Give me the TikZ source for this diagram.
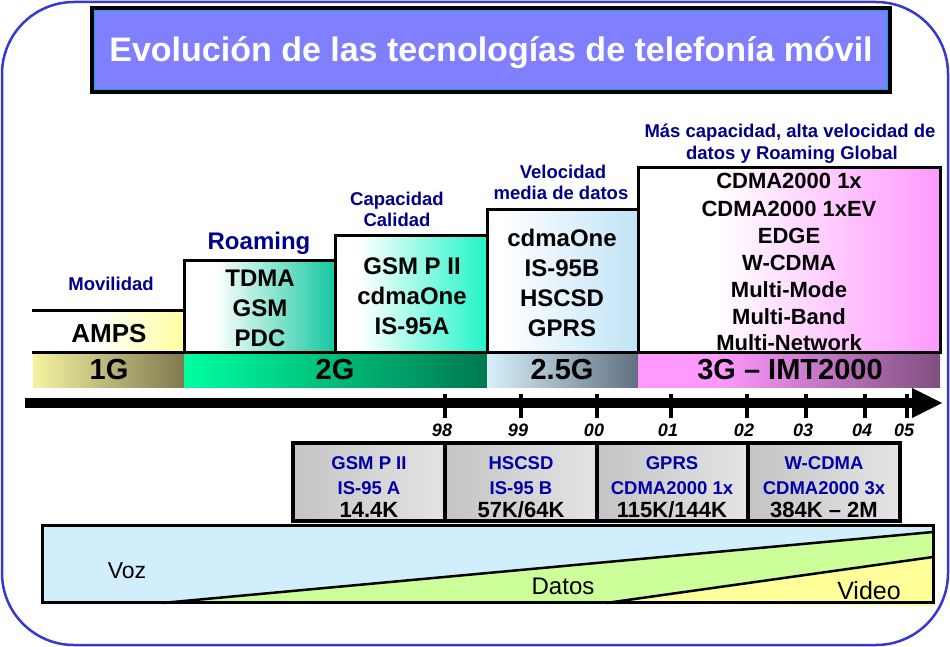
\documentclass[tikz,border=0pt]{standalone}
\usepackage{fontspec}
\setmainfont{Liberation Sans}
\usetikzlibrary{arrows.meta}
\newcommand\fs[1]{\fontsize{#1}{#1}\selectfont}
\definecolor{frameblue}{HTML}{3838D0}
\definecolor{titlefill}{HTML}{8080FF}
\definecolor{navy}{HTML}{00008B}
\definecolor{tblblue}{HTML}{0000AA}
\definecolor{cAmps}{HTML}{FFFFA0}
\definecolor{cTdma}{HTML}{14C8A0}
\definecolor{cGsm}{HTML}{20F5C8}
\definecolor{cCdma}{HTML}{C0E4F8}
\definecolor{cThree}{HTML}{FF99FF}
\definecolor{bOneL}{HTML}{F4F4A0}
\definecolor{bOneR}{HTML}{807850}
\definecolor{bTwoL}{HTML}{00FFA0}
\definecolor{bTwoR}{HTML}{007850}
\definecolor{bHalfL}{HTML}{D8F0FC}
\definecolor{bHalfR}{HTML}{607080}
\definecolor{bThreeL}{HTML}{FF99FF}
\definecolor{bThreeR}{HTML}{805080}
\definecolor{cellL}{HTML}{C4C4C4}
\definecolor{cellR}{HTML}{E4E4E4}
\definecolor{vozfill}{HTML}{D0EEFC}
\definecolor{datfill}{HTML}{CCFF99}
\definecolor{vidfill}{HTML}{FFFF99}
\pgfdeclarehorizontalshading{shAmps}{100bp}{color(0bp)=(white); color(25bp)=(white); color(45bp)=(white); color(75bp)=(cAmps); color(100bp)=(cAmps)}
\pgfdeclarehorizontalshading{shTdma}{100bp}{color(0bp)=(white); color(25bp)=(white); color(35bp)=(white); color(75bp)=(cTdma); color(100bp)=(cTdma)}
\pgfdeclarehorizontalshading{shGsm}{100bp}{color(0bp)=(white); color(25bp)=(white); color(33bp)=(white); color(75bp)=(cGsm); color(100bp)=(cGsm)}
\pgfdeclarehorizontalshading{shCdma}{100bp}{color(0bp)=(white); color(25bp)=(white); color(30bp)=(white); color(75bp)=(cCdma); color(100bp)=(cCdma)}
\pgfdeclarehorizontalshading{shThree}{100bp}{color(0bp)=(white); color(25bp)=(white); color(38bp)=(white); color(75bp)=(cThree); color(100bp)=(cThree)}
\pgfdeclarehorizontalshading{shThreeBar}{100bp}{color(0bp)=(bThreeL); color(25bp)=(bThreeL); color(38bp)=(bThreeL); color(75bp)=(bThreeR); color(100bp)=(bThreeR)}
\begin{document}
\begin{tikzpicture}[x=1pt,y=-1pt,
  lbl/.style={font={\bfseries\fs{18.5}}, text=navy, anchor=base, inner sep=0pt},
  boxtxt/.style={font={\bfseries\fs{24}}, anchor=base, inner sep=0pt},
  listtxt/.style={font={\bfseries\fs{22}}, anchor=base, inner sep=0pt},
  bartxt/.style={font={\bfseries\fs{29}}, anchor=base, inner sep=0pt},
  ticklbl/.style={font={\bfseries\itshape\fs{18}}, anchor=base, inner sep=0pt},
  tblue/.style={font={\bfseries\fs{18.5}}, text=tblblue, anchor=base, inner sep=0pt},
  tblack/.style={font={\bfseries\fs{22}}, anchor=base, inner sep=0pt},
  bigtxt/.style={anchor=base, inner sep=0pt},
  boxline/.style={line width=3pt, line cap=rect},
  tblline/.style={line width=4pt, line cap=rect}]
\useasboundingbox (0,0) rectangle (950,647);
% outer frame
\draw[frameblue, line width=2.5pt, rounded corners=72pt] (2,2) rectangle (948,645);
% title
\draw[fill=titlefill, line width=4pt] (92,8) rectangle (890,92);
\draw[cyan, line width=1pt] (94.5,10.5) rectangle (887.5,89.5);
\node[font={\bfseries\fs{34}}, text=white, anchor=base, inner sep=0pt] (title) at (491,62) {Evolución de las tecnologías de telefonía móvil};
% box fills
\shade[shading=shAmps] (33,310) rectangle (184,352);
\shade[shading=shTdma] (184,260) rectangle (335,352);
\shade[shading=shGsm] (335,235) rectangle (487,352);
\shade[shading=shCdma] (487,210) rectangle (638,352);
\shade[shading=shThree] (638,168) rectangle (940,352);
% bar fills
\shade[left color=bOneL, right color=bOneR] (33,352) rectangle (184,387);
\shade[left color=bTwoL, right color=bTwoR] (184,352) rectangle (487,387);
\shade[left color=bHalfL, right color=bHalfR] (487,352) rectangle (638,387);
\shade[shading=shThreeBar] (638,352) rectangle (940,387);
% box outlines
\draw[boxline] (33,310) -- (184,310) -- (184,260) -- (335,260) -- (335,235) -- (487,235) -- (487,210) -- (638,210) -- (638,168) -- (940,168) -- (940,352);
\draw[boxline] (184,310) -- (184,352);
\draw[boxline] (335,260) -- (335,352);
\draw[boxline] (487,235) -- (487,352);
\draw[boxline] (638,210) -- (638,352);
\draw[boxline] (33,352) -- (940,352);
% labels above
\node[lbl] (movil) at (111,290) {Movilidad};
\node[lbl, font={\bfseries\fs{24}}] (roam) at (259,249) {Roaming};
\node[lbl] (capa) at (397,205) {Capacidad};
\node[lbl] (cali) at (397,226) {Calidad};
\node[lbl] (velo) at (563,179) {Velocidad};
\node[lbl] (media) at (561,200) {media de datos};
\node[lbl] (mas) at (790,138) {Más capacidad, alta velocidad de};
\node[lbl] (datosr) at (792,160) {datos y Roaming Global};
% box texts
\node[boxtxt, font={\bfseries\fs{26}}] (amps) at (109,342) {AMPS};
\node[boxtxt] (tdma) at (260,286) {TDMA};
\node[boxtxt] (gsm) at (260,316) {GSM};
\node[boxtxt] (pdc) at (260,346) {PDC};
\node[boxtxt] (gsmp) at (412,274) {GSM P II};
\node[boxtxt] (cdmaa) at (412,304) {cdmaOne};
\node[boxtxt] (isa) at (412,334) {IS-95A};
\node[boxtxt] (cdmab) at (562,246) {cdmaOne};
\node[boxtxt] (isb) at (562,276) {IS-95B};
\node[boxtxt] (hscsd) at (562,306) {HSCSD};
\node[boxtxt] (gprs) at (562,336) {GPRS};
\node[listtxt] (g1) at (789,189) {CDMA2000 1x};
\node[listtxt] (g2) at (789,216) {CDMA2000 1xEV};
\node[listtxt] (g3) at (789,243) {EDGE};
\node[listtxt] (g4) at (789,270) {W-CDMA};
\node[listtxt] (g5) at (789,297) {Multi-Mode};
\node[listtxt] (g6) at (789,324) {Multi-Band};
\node[listtxt] (g7) at (789,350) {Multi-Network};
% bar texts
\node[bartxt] (b1) at (109,379) {1G};
\node[bartxt] (b2) at (335,379) {2G};
\node[bartxt] (b25) at (562,379) {2.5G};
\node[bartxt] (b3) at (790,379) {3G -- IMT2000};
% arrow
\coordinate (arS) at (25,403);
\coordinate (arE) at (912,403);
\coordinate (arT) at (942,403);
\draw[line width=10pt] (arS) -- (arE);
\fill (912,388) -- (arT) -- (912,418) -- cycle;
\foreach \x/\l in {445/98, 521/99, 597/00, 671/01, 747/02, 806/03, 865/04, 907/05} {
  \draw[line width=4pt] (\x,394) -- (\x,418);
  \node[ticklbl] (t\l) at (\x-3,436) {\l};
}
% table
\foreach \a/\b in {293/445, 445/597, 597/748, 748/900} {
  \shade[left color=cellL, right color=cellR] (\a,443) rectangle (\b,521);
}
\draw[tblline] (293,443) rectangle (900,521);
\draw[tblline] (445,443) -- (445,521);
\draw[tblline] (597,443) -- (597,521);
\draw[tblline] (748,443) -- (748,521);
\node[tblue] (c1a) at (369,469) {GSM P II};
\node[tblue] (c1b) at (369,494) {IS-95 A};
\node[tblack] (c1c) at (369,517) {14.4K};
\node[tblue] (c2a) at (521,469) {HSCSD};
\node[tblue] (c2b) at (521,494) {IS-95 B};
\node[tblack] (c2c) at (521,517) {57K/64K};
\node[tblue] (c3a) at (672,469) {GPRS};
\node[tblue] (c3b) at (672,494) {CDMA2000 1x};
\node[tblack] (c3c) at (672,517) {115K/144K};
\node[tblue] (c4a) at (824,469) {W-CDMA};
\node[tblue] (c4b) at (824,494) {CDMA2000 3x};
\node[tblack] (c4c) at (824,517) {384K -- 2M};
% voz datos video
\fill[vozfill] (42,525) rectangle (933,602);
\fill[datfill] (162,603) -- (933,532) -- (933,603) -- cycle;
\fill[vidfill] (606,603) -- (933,557) -- (935,606) -- cycle;
\draw[line width=2.5pt] (162,603) -- (933,532);
\draw[line width=2.5pt] (606,603) -- (933,557);
\draw[line width=3pt] (42,525) rectangle (933,602);
\node[bigtxt, font={\fs{23}}] (voz) at (127,578) {Voz};
\node[bigtxt, font={\fs{24}}] (datos) at (563,594) {Datos};
\node[bigtxt, font={\fs{25}}] (video) at (869,599) {Video};
\end{tikzpicture}
\end{document}
